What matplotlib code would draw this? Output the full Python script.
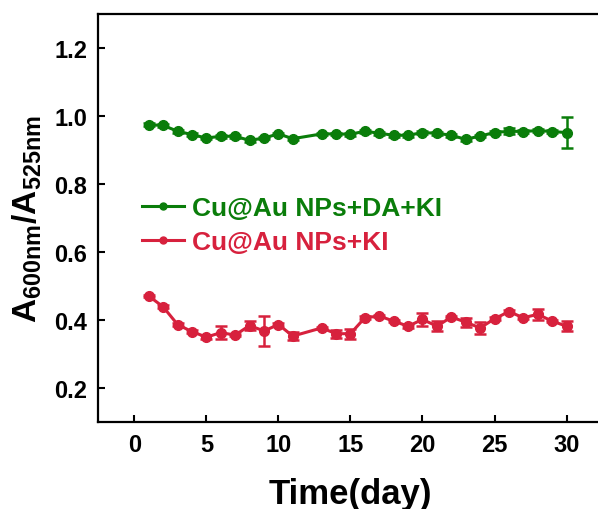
import matplotlib.pyplot as plt

plt.rcParams['font.family'] = ['Liberation Sans', 'DejaVu Sans']
plt.rcParams['font.weight'] = 'bold'
plt.rcParams['mathtext.fontset'] = 'custom'
plt.rcParams['mathtext.rm'] = 'Liberation Sans:bold'
plt.rcParams['mathtext.it'] = 'Liberation Sans:bold'
plt.rcParams['mathtext.bf'] = 'Liberation Sans:bold'

# data (day 12 missing)
days = [1, 2, 3, 4, 5, 6, 7, 8, 9, 10, 11, 13, 14, 15, 16, 17, 18, 19, 20,
        21, 22, 23, 24, 25, 26, 27, 28, 29, 30]

green = [0.974, 0.972, 0.955, 0.945, 0.935, 0.940, 0.940, 0.928, 0.935, 0.947,
         0.933, 0.947, 0.947, 0.946, 0.955, 0.949, 0.943, 0.943, 0.951,
         0.949, 0.943, 0.931, 0.941, 0.951, 0.955, 0.954, 0.957, 0.954, 0.951]
green_err = [0.004, 0.004, 0.004, 0.004, 0.004, 0.004, 0.004, 0.004, 0.004, 0.004,
             0.004, 0.004, 0.004, 0.004, 0.004, 0.004, 0.004, 0.004, 0.004,
             0.004, 0.004, 0.004, 0.004, 0.004, 0.008, 0.004, 0.004, 0.004, 0.045]

red = [0.470, 0.438, 0.386, 0.365, 0.349, 0.362, 0.355, 0.383, 0.367, 0.386,
       0.352, 0.376, 0.359, 0.359, 0.406, 0.411, 0.396, 0.381, 0.401,
       0.381, 0.408, 0.393, 0.376, 0.403, 0.424, 0.406, 0.416, 0.396, 0.381]
red_err = [0.004, 0.004, 0.004, 0.004, 0.006, 0.019, 0.004, 0.012, 0.043, 0.004,
           0.012, 0.004, 0.012, 0.015, 0.004, 0.004, 0.004, 0.004, 0.018,
           0.015, 0.004, 0.013, 0.017, 0.004, 0.004, 0.004, 0.016, 0.004, 0.014]

labels = ['Cu@Au NPs+DA+KI', 'Cu@Au NPs+KI']
colors = ['#0a7d0a', '#d7213d']

fig = plt.figure(figsize=(5.98, 5.10), dpi=100)
ax = fig.add_axes([0.1644, 0.1712, 0.8433, 0.7994])

lines = []
for y, e, c, lab in [(green, green_err, colors[0], labels[0]),
                     (red, red_err, colors[1], labels[1])]:
    cont = ax.errorbar(days, y, yerr=e, color=c, marker='o', markersize=7,
                       linewidth=2.2, elinewidth=1.8, capsize=4, capthick=1.8, label=lab)
    lines.append(cont[0])

ax.set_xlim(-2.5, 32.5)
ax.set_ylim(0.1, 1.3)
ax.set_xticks([0, 5, 10, 15, 20, 25, 30])
ax.set_yticks([0.2, 0.4, 0.6, 0.8, 1.0, 1.2])
ax.tick_params(direction='in', length=5, width=1.5, labelsize=17, pad=8)
for s in ax.spines.values():
    s.set_linewidth(1.6)

ax.set_xlabel('Time(day)', fontsize=25, fontweight='bold', labelpad=15)
ax.set_ylabel(r'$\mathrm{A_{600nm}/A_{525nm}}$', fontsize=24, labelpad=7)

leg = ax.legend(lines, labels, loc='upper left', bbox_to_anchor=(0.06, 0.585),
                frameon=False, fontsize=19, handlelength=1.6, handletextpad=0.3,
                labelspacing=0.38, borderpad=0)
for txt, c in zip(leg.get_texts(), colors):
    txt.set_color(c)
for h in leg.legend_handles:
    h.set_markersize(5)

fig.savefig('out.png', dpi=100)
